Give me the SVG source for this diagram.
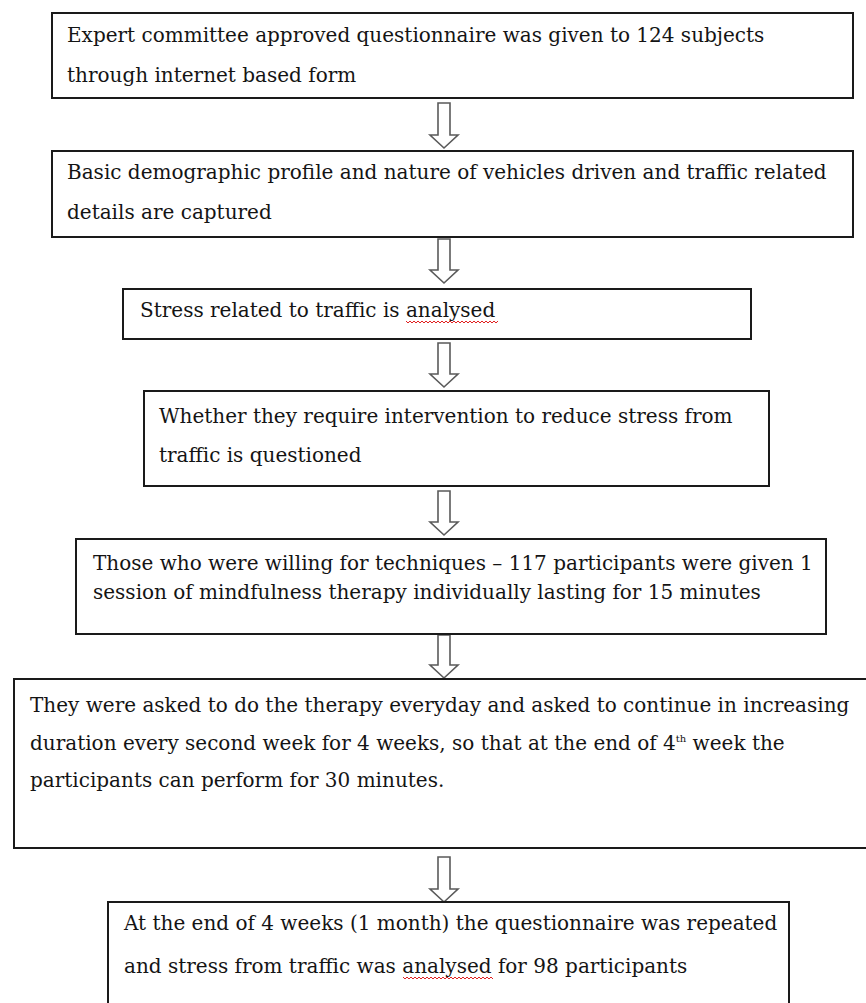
<svg xmlns="http://www.w3.org/2000/svg" width="866" height="1003" viewBox="0 0 866 1003">
<style>
.box{fill:#fff;stroke:#1a1a1a;stroke-width:2}
.t{font-family:"DejaVu Serif","Liberation Serif",serif;font-size:20px;fill:#141414}
.arr{fill:#fff;stroke:#5a5a5a;stroke-width:1.6;stroke-linejoin:miter}
.sq{fill:none;stroke:#e02020;stroke-width:1}
</style>
<rect width="866" height="1003" fill="#fff"/>
<g id="connectors">
<polygon class="arr" points="438,103 450,103 450,135 458,135 444,148 430,135 438,135"/>
<polygon class="arr" points="438,239 450,239 450,270 458,270 444,283 430,270 438,270"/>
<polygon class="arr" points="438,343 450,343 450,374 458,374 444,387 430,374 438,374"/>
<polygon class="arr" points="438,491 450,491 450,522 458,522 444,535 430,522 438,522"/>
<polygon class="arr" points="438,635 450,635 450,665 458,665 444,678 430,665 438,665"/>
<polygon class="arr" points="438,857 450,857 450,889 458,889 444,902 430,889 438,889"/>
</g>
<g id="n1">
<rect class="box" x="52" y="13" width="801" height="85"/>
<text class="t" x="67" y="42">Expert committee approved questionnaire was given to 124 subjects</text>
<text class="t" x="67" y="82">through internet based form</text>
</g>
<g id="n2">
<rect class="box" x="52" y="151" width="801" height="86"/>
<text class="t" x="67" y="179">Basic demographic profile and nature of vehicles driven and traffic related</text>
<text class="t" x="67" y="219">details are captured</text>
</g>
<g id="n3">
<rect class="box" x="123" y="289" width="628" height="50"/>
<text class="t" x="140" y="317">Stress related to traffic is analysed</text>
<path class="sq" d="M406,321 l2,2 l2,-2 l2,2 l2,-2 l2,2 l2,-2 l2,2 l2,-2 l2,2 l2,-2 l2,2 l2,-2 l2,2 l2,-2 l2,2 l2,-2 l2,2 l2,-2 l2,2 l2,-2 l2,2 l2,-2 l2,2 l2,-2 l2,2 l2,-2 l2,2 l2,-2 l2,2 l2,-2 l2,2 l2,-2 l2,2 l2,-2 l2,2 l2,-2 l2,2 l2,-2 l2,2 l2,-2 l2,2 l2,-2 l2,2 l2,-2 l2,2 l2,-2"/>
</g>
<g id="n4">
<rect class="box" x="144" y="391" width="625" height="95"/>
<text class="t" x="159" y="423">Whether they require intervention to reduce stress from</text>
<text class="t" x="159" y="462">traffic is questioned</text>
</g>
<g id="n5">
<rect class="box" x="76" y="539" width="750" height="95"/>
<text class="t" x="93" y="570">Those who were willing for techniques – 117 participants were given 1</text>
<text class="t" x="93" y="599">session of mindfulness therapy individually lasting for 15 minutes</text>
</g>
<g id="n6">
<rect class="box" x="14" y="679" width="862" height="169"/>
<text class="t" x="30" y="712">They were asked to do the therapy everyday and asked to continue in increasing</text>
<text class="t" x="30" y="750">duration every second week for 4 weeks, so that at the end of 4<tspan font-size="10" dy="-8">th</tspan><tspan dy="8"> week the</tspan></text>
<text class="t" x="30" y="787">participants can perform for 30 minutes.</text>
</g>
<g id="n7">
<rect class="box" x="108" y="902" width="681" height="120"/>
<text class="t" x="124" y="930">At the end of 4 weeks (1 month) the questionnaire was repeated</text>
<text class="t" x="124" y="973">and stress from traffic was analysed for 98 participants</text>
<path class="sq" d="M403,977 l2,2 l2,-2 l2,2 l2,-2 l2,2 l2,-2 l2,2 l2,-2 l2,2 l2,-2 l2,2 l2,-2 l2,2 l2,-2 l2,2 l2,-2 l2,2 l2,-2 l2,2 l2,-2 l2,2 l2,-2 l2,2 l2,-2 l2,2 l2,-2 l2,2 l2,-2 l2,2 l2,-2 l2,2 l2,-2 l2,2 l2,-2 l2,2 l2,-2 l2,2 l2,-2 l2,2 l2,-2 l2,2 l2,-2 l2,2 l2,-2 l2,2"/>
</g>
</svg>
